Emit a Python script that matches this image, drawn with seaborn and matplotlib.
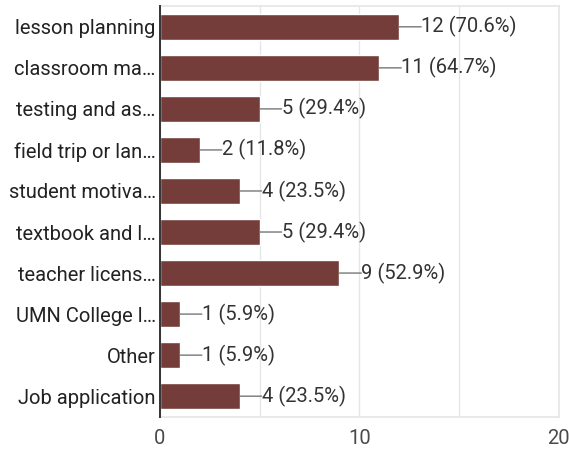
import numpy as np
import matplotlib as mpl
import matplotlib.pyplot as plt
import seaborn as sns
import pandas as pd

categories = ['lesson planning', 'classroom ma…', 'testing and as…', 'field trip or lan…',
              'student motiva…', 'textbook and l…', 'teacher licens…', 'UMN College l…',
              'Other', 'Job application']
counts = [12, 11, 5, 2, 4, 5, 9, 1, 1, 4]
percents = [70.6, 64.7, 29.4, 11.8, 23.5, 29.4, 52.9, 5.9, 5.9, 23.5]

bar_color = '#743d3a'

sns.set_theme(style='white')
plt.rcParams['font.family'] = ['Roboto', 'DejaVu Sans']

df = pd.DataFrame({'category': categories, 'count': counts, 'pct': percents})

fig = plt.figure(figsize=(5.69, 4.5), dpi=100)
ax = fig.add_axes([0.281, 0.074, 0.701, 0.912])

sns.barplot(data=df, x='count', y='category', color=bar_color, saturation=1,
            width=0.64, ax=ax, zorder=3)

ax.set_xlim(0, 20)
ax.set_xticks([0, 10, 20])
ax.set_xticks([5, 15], minor=True)
ax.grid(axis='x', which='both', color='#e6e6e6', lw=1, zorder=0)
ax.set_xlabel('')
ax.set_ylabel('')

for s in ['top', 'right', 'bottom']:
    ax.spines[s].set_color('#e6e6e6')
ax.spines['left'].set_color('#333333')
ax.spines['left'].set_linewidth(1.4)
ax.spines['left'].set_zorder(4)

ax.tick_params(axis='x', which='both', length=0, pad=9, labelsize=14.5, labelcolor='#4a4a4a')
ax.tick_params(axis='y', length=0, pad=3, labelsize=14.5, labelcolor='#222222')

# value labels with a short leader line from the bar end
for i, (c, p) in enumerate(zip(counts, percents)):
    ax.annotate(f'{c} ({p}%)', xy=(c, i), xytext=(22, 0), textcoords='offset pixels',
                ha='left', va='center', fontsize=14.5, color='#333333',
                arrowprops=dict(arrowstyle='-', color='#777777', lw=1, relpos=(0, 0.5),
                                patchA=None, shrinkA=0, shrinkB=0))

fig.savefig('out.png', dpi=100)
